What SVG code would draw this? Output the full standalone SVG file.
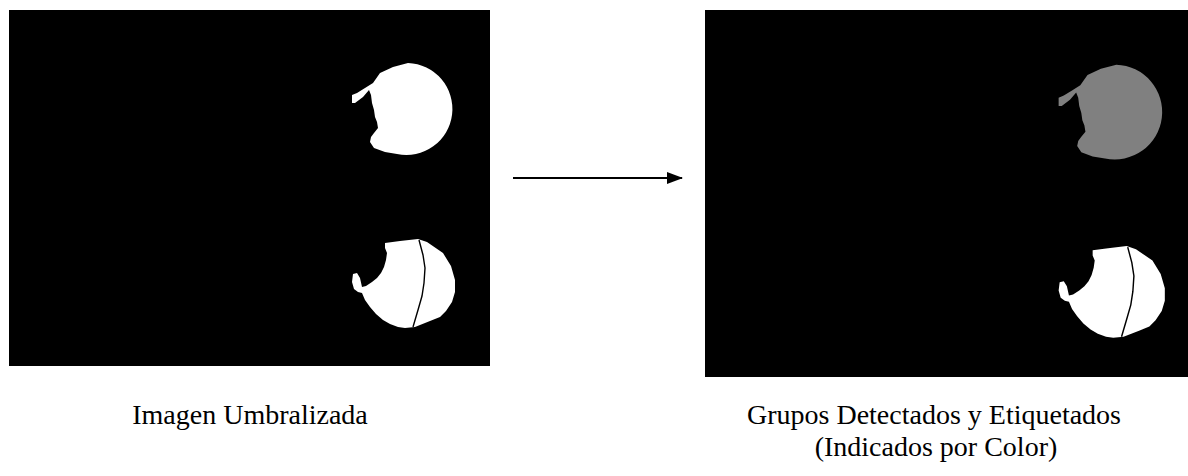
<svg xmlns="http://www.w3.org/2000/svg" xmlns:xlink="http://www.w3.org/1999/xlink" width="1188" height="476" viewBox="0 0 1188 476">
<style>
.img{fill:#000}
.lbl{font-family:"Liberation Serif","Times New Roman",serif;font-size:28px;fill:#000;text-anchor:middle}
.crack{fill:none;stroke:#000;stroke-width:1.4}
.conn{stroke:#000;stroke-width:2;fill:none}
</style>
<defs>
<marker id="ah" markerWidth="16" markerHeight="12" refX="15" refY="6" orient="auto" markerUnits="userSpaceOnUse">
<path d="M0,0 L16,6 L0,12 Z" fill="#000"/>
</marker>
<path id="blobA" d="M393,67 L380,73 L373,83 L365,88 L357,93 L352,95 L352,103 L355,103 L363,97 L369,90 L371,95 L372,103 L374,110 L375,117 L377,122 L378,128 L374,133 L371,137 L370,142 L374,148 L385,152 L397,154 A46,46 0 1 0 408,63 Z"/>
<path id="blobB" d="M385,243 L400,241 L418,239 L427,242 L443,253 L451,266 L455,280 L455,292 L452,302 L446,311 L440,317 L430,321 L415,327 L405,328 L398,327 L390,324 L383,320 L376,314 L370,307 L365,300 L362,293 L358,292 L354,289 L352,282 L353,274 L357,273 L360,278 L362,287 L366,286 L372,282 L377,278 L381,273 L384,267 L386,260 L387,253 L385,248 Z"/>
<path id="crackB" d="M419,240 L423,255 L425,268 L424,283 L422,296 L418,310 L413,327"/>
</defs>
<g id="imagen-umbralizada">
<rect class="img" x="9" y="10" width="481" height="356"/>
<use xlink:href="#blobA" fill="#fff"/>
<use xlink:href="#blobB" fill="#fff"/>
<use xlink:href="#crackB" class="crack"/>
<text class="lbl" x="250" y="424">Imagen Umbralizada</text>
</g>
<g id="grupos-etiquetados">
<rect class="img" x="705" y="10" width="483" height="367"/>
<g transform="translate(705 10) scale(1.031) translate(-9 -10)">
<use xlink:href="#blobA" fill="#808080"/>
<use xlink:href="#blobB" fill="#fff"/>
<use xlink:href="#crackB" class="crack"/>
</g>
<text class="lbl" x="934" y="424">Grupos Detectados y Etiquetados</text>
<text class="lbl" x="936" y="456">(Indicados por Color)</text>
</g>
<g id="connectors">
<line class="conn" x1="513" y1="178" x2="682" y2="178" marker-end="url(#ah)"/>
</g>
</svg>
